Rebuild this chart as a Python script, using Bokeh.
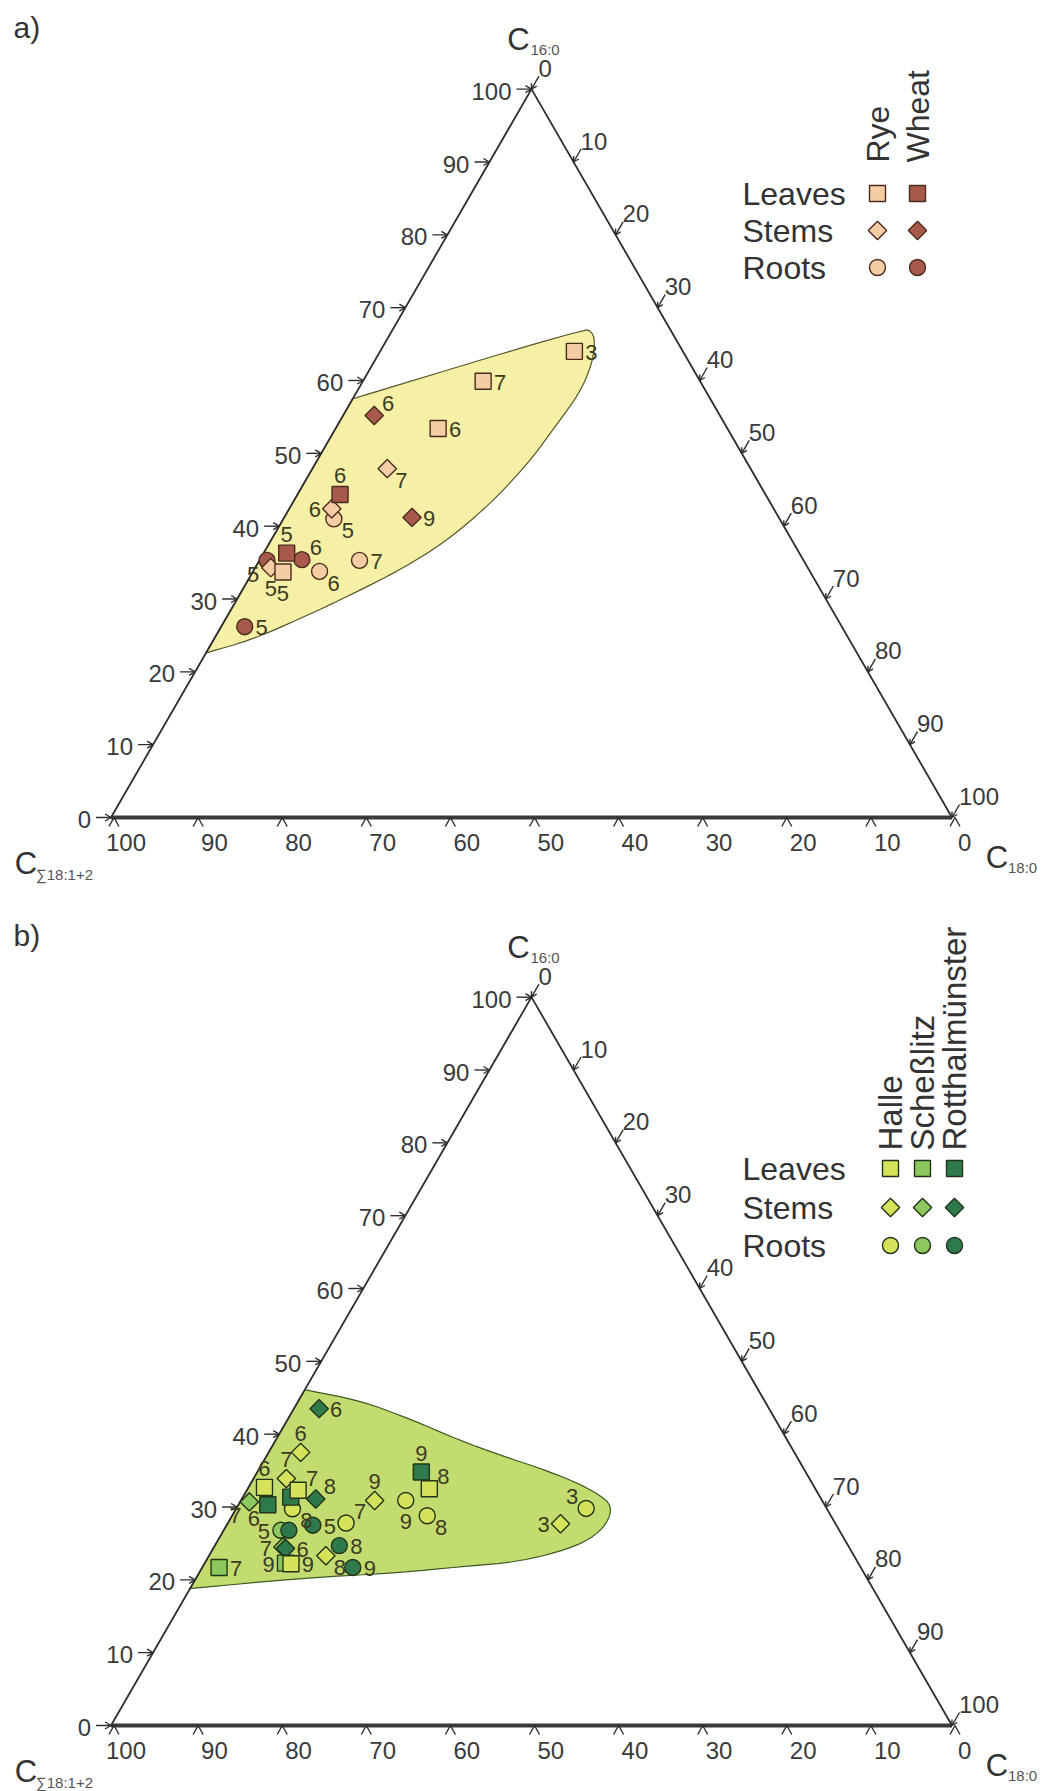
import math
from bokeh.plotting import figure
from bokeh.models import Range1d
from bokeh.core.properties import value
from bokeh.embed import file_html
from bokeh.resources import INLINE

# ---------------- data (percent: C16:0, C18:0; C18:1+2 is the remainder) -------------
ticks = [0, 10, 20, 30, 40, 50, 60, 70, 80, 90, 100]
tick_labels = [str(t) for t in ticks]

# Panel a) Rye / Wheat
rye_leaves_c16 = [64.0, 59.9, 53.4, 33.7]
rye_leaves_c18 = [23.1, 14.3, 12.2, 3.6]
rye_leaves_lbl = ["3", "7", "6", "5"]
rye_leaves_pos = ["r", "r", "r", "d"]

rye_stems_c16 = [47.9, 42.4, 34.3]
rye_stems_c18 = [8.9, 5.05, 1.85]
rye_stems_lbl = ["7", "6", "5"]
rye_stems_pos = ["dr", "l", "d"]

rye_roots_c16 = [41.0, 33.8, 35.3]
rye_roots_c18 = [6.0, 7.9, 11.9]
rye_roots_lbl = ["5", "6", "7"]
rye_roots_pos = ["dr", "dr", "r"]

wheat_leaves_c16 = [44.35, 36.3]
wheat_leaves_c18 = [5.06, 2.74]
wheat_leaves_lbl = ["6", "5"]
wheat_leaves_pos = ["u", "u"]

wheat_stems_c16 = [55.2, 41.2]
wheat_stems_c18 = [3.7, 15.2]
wheat_stems_lbl = ["6", "9"]
wheat_stems_pos = ["ur", "r"]

wheat_roots_c16 = [35.4, 35.3, 26.2]
wheat_roots_c18 = [5.0, 0.9, 2.8]
wheat_roots_lbl = ["6", "5", "5"]
wheat_roots_pos = ["ur", "dl", "r"]

hull_a_c16 = [57.5, 67.1, 66.7, 65.5, 62.5, 58.4, 53.8, 49.3, 44.9, 41.3, 37.7, 34.2, 30.7, 27.4, 24.4, 22.6]
hull_a_c18 = [0.0, 22.7, 23.8, 24.8, 26.0, 26.6, 26.0, 25.4, 24.2, 22.7, 20.7, 17.6, 13.4, 9.0, 4.5, 0.0]

# Panel b) Halle / Schesslitz / Rotthalmuenster
halle_leaves_c16 = [32.7, 32.3, 32.5, 22.2]
halle_leaves_c18 = [1.9, 6.1, 21.6, 10.3]
halle_leaves_lbl = ["6", "7", "8", "9"]
halle_leaves_pos = ["u", "ur", "ur", "r"]

halle_stems_c16 = [37.5, 33.9, 30.9, 23.3, 27.7]
halle_stems_c18 = [3.8, 3.9, 15.9, 13.9, 39.6]
halle_stems_lbl = ["6", "7", "9", "8", "3"]
halle_stems_pos = ["u", "u", "u", "dr", "l"]

halle_roots_c16 = [29.75, 27.8, 30.9, 28.8, 29.8]
halle_roots_c18 = [6.7, 14.05, 19.6, 23.2, 41.6]
halle_roots_lbl = ["8", "7", "9", "8", "3"]
halle_roots_pos = ["dr", "ur", "d", "dr", "ul"]

sch_leaves_c16 = [21.7, 22.3]
sch_leaves_c18 = [2.0, 9.6]
sch_leaves_lbl = ["7", "9"]
sch_leaves_pos = ["r", "l"]

sch_stems_c16 = [30.7, 24.5]
sch_stems_c18 = [1.1, 8.2]
sch_stems_lbl = ["7", "7"]
sch_stems_pos = ["dl", "l"]

sch_roots_c16 = [26.8]
sch_roots_c18 = [6.8]
sch_roots_lbl = ["5"]
sch_roots_pos = ["l"]

rott_leaves_c16 = [34.8, 31.35, 30.3]
rott_leaves_c18 = [19.5, 5.7, 3.5]
rott_leaves_lbl = ["9", "", "6"]
rott_leaves_pos = ["u", "u", "dl"]

rott_stems_c16 = [43.5, 31.1, 24.3]
rott_stems_c18 = [3.0, 8.8, 8.6]
rott_stems_lbl = ["6", "8", "6"]
rott_stems_pos = ["r", "ur", "r"]

rott_roots_c16 = [27.5, 26.8, 24.7, 21.7]
rott_roots_c18 = [10.25, 7.75, 14.8, 17.9]
rott_roots_lbl = ["5", "", "8", "9"]
rott_roots_pos = ["r", "r", "r", "r"]

hull_b_c16 = [46.1, 44.6, 41.9, 39.1, 37.1, 35.3, 33.4, 31.6, 30.2, 28.2, 26.1, 24.3, 22.5, 21.8, 21.0, 20.2, 18.8]
hull_b_c18 = [0.0, 7.4, 15.0, 22.0, 27.8, 33.4, 38.6, 42.4, 44.4, 45.1, 44.6, 42.5, 37.4, 30.7, 23.9, 12.4, 0.0]

# ---------------- layout / style ----------------
S = 8.41            # pixels per percent
H = math.sqrt(3) / 2
OX, OY = 110.5, 817.0   # pixel position of panel a's lower-left vertex
PANEL_B_SHIFT = 908.0   # pixels between the two panels
W, HGT = 1050, 1791

FONT = value("Liberation Sans")
INK = "#2e2e2e"
LBL_INK = "#3d3b22"
SQ, CI, DI = 16, 16, 13

def px(xp, yp):
    return (xp - OX) / S, (OY - yp) / S

p = figure(width=W, height=HGT, output_backend="svg", toolbar_location=None,
           x_range=Range1d((0 - OX) / S, (W - OX) / S),
           y_range=Range1d((OY - HGT) / S, OY / S),
           x_axis_location=None, y_axis_location=None, min_border=0)
p.grid.visible = False
p.outline_line_color = None
p.background_fill_color = "white"
p.border_fill_color = "white"

def tern(c16, c18, yoff):
    xs = [b + a / 2 for a, b in zip(c16, c18)]
    ys = [a * H + yoff for a in c16]
    return xs, ys

OFFS = {"r": (17, 1), "l": (-17, 1), "u": (0, -19), "d": (0, 21),
        "ur": (14, -12), "dr": (14, 12), "ul": (-14, -12), "dl": (-14, 14)}

def chaikin(xs, ys, n=2):
    pts = list(zip(xs, ys))
    for _ in range(n):
        new = [pts[0]]
        for (x0, y0), (x1, y1) in zip(pts[:-1], pts[1:]):
            new.append((0.75 * x0 + 0.25 * x1, 0.75 * y0 + 0.25 * y1))
            new.append((0.25 * x0 + 0.75 * x1, 0.25 * y0 + 0.75 * y1))
        new.append(pts[-1])
        pts = new
    return [q[0] for q in pts], [q[1] for q in pts]

def marker(xs, ys, kind, fill, edge):
    if kind == "square":
        p.scatter(xs, ys, marker="square", size=SQ, fill_color=fill, line_color=edge, line_width=1.4)
    elif kind == "diamond":
        p.scatter(xs, ys, marker="square", angle=math.pi / 4, size=DI, fill_color=fill, line_color=edge, line_width=1.4)
    else:
        p.scatter(xs, ys, marker="circle", size=CI, fill_color=fill, line_color=edge, line_width=1.4)

def draw_frame(yoff, hull_c16, hull_c18, hull_fill, hull_line):
    hx, hy = tern(hull_c16, hull_c18, yoff)
    hx, hy = chaikin(hx, hy, 2)
    p.patch(hx, hy, fill_color=hull_fill, line_color=hull_line, line_width=1.2)

    p.line([0, 50, 100], [yoff, 100 * H + yoff, yoff], line_color=INK, line_width=1.8)
    p.line([0, 100], [yoff, yoff], line_color="#3a3a3a", line_width=4)

    xs, ys = [], []
    for t in ticks:   # left axis (C16:0)
        X, Y = t / 2, t * H + yoff
        xs.append([X - 15 / S, X]); ys.append([Y, Y])
        xs.append([X - 6 / S, X, X - 6 / S]); ys.append([Y + 3.5 / S, Y, Y - 3.5 / S])
    d = (-0.5, -H)
    for t in ticks:   # right axis (C18:0)
        X, Y = t + (100 - t) / 2, (100 - t) * H + yoff
        xs.append([X - 15 / S * d[0], X]); ys.append([Y - 15 / S * d[1], Y])
        hx_, hy_ = [], []
        for ang in (math.radians(30), -math.radians(30)):
            bx, by = -d[0], -d[1]
            rx = bx * math.cos(ang) - by * math.sin(ang)
            ry = bx * math.sin(ang) + by * math.cos(ang)
            hx_.append(X + 6 / S * rx); hy_.append(Y + 6 / S * ry)
        xs.append([hx_[0], X, hx_[1]]); ys.append([hy_[0], Y, hy_[1]])
    for t in ticks:   # bottom axis (C18:1+2)
        X = 100 - t
        xs.append([X + 3 / S - 5 / S, X + 3 / S, X + 3 / S + 5 / S]); ys.append([yoff - 9 / S, yoff, yoff - 9 / S])
    p.multi_line(xs, ys, line_color=INK, line_width=1.4)

    lx = [t / 2 for t in ticks]; ly = [t * H + yoff for t in ticks]
    p.text(lx, ly, text=tick_labels, x_offset=-20, y_offset=2, text_align="right", text_baseline="middle",
           text_font=FONT, text_font_size="24px", text_color="#3a3a3a")
    rx = [t + (100 - t) / 2 for t in ticks]; ry = [(100 - t) * H + yoff for t in ticks]
    p.text(rx, ry, text=tick_labels, x_offset=7, y_offset=-21, text_align="left", text_baseline="middle",
           text_font=FONT, text_font_size="24px", text_color="#3a3a3a")
    bx = [100 - t for t in ticks]; by = [yoff] * len(ticks)
    bxo = [-5 if t == 100 else 6 for t in ticks]
    p.text(bx, by, text=tick_labels, x_offset=bxo, y_offset=25, text_align="left", text_baseline="middle",
           text_font=FONT, text_font_size="24px", text_color="#3a3a3a")

    def title(X, Y, dx, dy, sub, sdx, sdy):
        p.text([X], [Y], text=["C"], x_offset=dx, y_offset=dy, text_align="center", text_baseline="middle",
               text_font=FONT, text_font_size="31px", text_color="#333333")
        p.text([X], [Y], text=[sub], x_offset=sdx, y_offset=sdy, text_align="left", text_baseline="middle",
               text_font=FONT, text_font_size="15px", text_color="#555555")
    title(50, 100 * H + yoff, -13, -50, "16:0", -1, -40)
    title(0, yoff, -85, 46, "\u221118:1+2", -75, 57)
    title(100, yoff, 45, 40, "18:0", 56, 50)

def draw_series(c16, c18, lbl, pos, yoff, kind, fill, edge):
    xs, ys = tern(c16, c18, yoff)
    marker(xs, ys, kind, fill, edge)
    p.text(xs, ys, text=lbl, x_offset=[OFFS[k][0] for k in pos], y_offset=[OFFS[k][1] for k in pos],
           text_align="center", text_baseline="middle", text_font=FONT, text_font_size="22px", text_color=LBL_INK)

def legend(rows_y, text_x, col_x, col_names, fills, edge, name_bottom, name_size):
    for yy, name in zip(rows_y, ["Leaves", "Stems", "Roots"]):
        X, Y = px(text_x, yy)
        p.text([X], [Y], text=[name], text_align="left", text_baseline="middle",
               text_font=FONT, text_font_size="32px", text_color="#333333")
    kinds = ["square", "diamond", "circle"]
    for cx, nm, f in zip(col_x, col_names, fills):
        X, Y = px(cx, name_bottom)
        p.text([X], [Y], text=[nm], angle=math.pi / 2, text_align="left", text_baseline="middle",
               text_font=FONT, text_font_size=name_size, text_color="#333333")
        for yy, k in zip(rows_y, kinds):
            X, Y = px(cx, yy)
            marker([X], [Y], k, f, edge)

# ---------------- panel a ----------------
RYE, WHEAT, EDGE_A = "#f4cda2", "#a75a4b", "#4a2c1e"
draw_frame(0.0, hull_a_c16, hull_a_c18, "#f6f0a6", "#55552a")
draw_series(wheat_roots_c16, wheat_roots_c18, wheat_roots_lbl, wheat_roots_pos, 0.0, "circle", WHEAT, EDGE_A)
draw_series(rye_roots_c16, rye_roots_c18, rye_roots_lbl, rye_roots_pos, 0.0, "circle", RYE, EDGE_A)
draw_series(rye_stems_c16, rye_stems_c18, rye_stems_lbl, rye_stems_pos, 0.0, "diamond", RYE, EDGE_A)
draw_series(wheat_stems_c16, wheat_stems_c18, wheat_stems_lbl, wheat_stems_pos, 0.0, "diamond", WHEAT, EDGE_A)
draw_series(rye_leaves_c16, rye_leaves_c18, rye_leaves_lbl, rye_leaves_pos, 0.0, "square", RYE, EDGE_A)
draw_series(wheat_leaves_c16, wheat_leaves_c18, wheat_leaves_lbl, wheat_leaves_pos, 0.0, "square", WHEAT, EDGE_A)
legend([193, 230, 267], 742, [877, 917], ["Rye", "Wheat"], [RYE, WHEAT], EDGE_A, 162, "32px")
X, Y = px(13, 27)
p.text([X], [Y], text=["a)"], text_align="left", text_baseline="middle", text_font=FONT,
       text_font_size="30px", text_color="#333333")

# ---------------- panel b ----------------
YB = -PANEL_B_SHIFT / S
HALLE, SCH, ROTT, EDGE_B = "#d6e35a", "#8dc85e", "#2f7a4a", "#22331a"
draw_frame(YB, hull_b_c16, hull_b_c18, "#c3dc70", "#3d5a22")
draw_series(sch_roots_c16, sch_roots_c18, sch_roots_lbl, sch_roots_pos, YB, "circle", SCH, EDGE_B)
draw_series(rott_roots_c16, rott_roots_c18, rott_roots_lbl, rott_roots_pos, YB, "circle", ROTT, EDGE_B)
draw_series(halle_roots_c16, halle_roots_c18, halle_roots_lbl, halle_roots_pos, YB, "circle", HALLE, EDGE_B)
draw_series(sch_stems_c16, sch_stems_c18, sch_stems_lbl, sch_stems_pos, YB, "diamond", SCH, EDGE_B)
draw_series(halle_stems_c16, halle_stems_c18, halle_stems_lbl, halle_stems_pos, YB, "diamond", HALLE, EDGE_B)
draw_series(rott_stems_c16, rott_stems_c18, rott_stems_lbl, rott_stems_pos, YB, "diamond", ROTT, EDGE_B)
draw_series(rott_leaves_c16, rott_leaves_c18, rott_leaves_lbl, rott_leaves_pos, YB, "square", ROTT, EDGE_B)
draw_series(sch_leaves_c16, sch_leaves_c18, sch_leaves_lbl, sch_leaves_pos, YB, "square", SCH, EDGE_B)
draw_series(halle_leaves_c16, halle_leaves_c18, halle_leaves_lbl, halle_leaves_pos, YB, "square", HALLE, EDGE_B)
legend([1168, 1207, 1245], 742, [890, 922, 954], ["Halle", "Scheßlitz", "Rotthalmünster"],
       [HALLE, SCH, ROTT], EDGE_B, 1150, "33px")
X, Y = px(13, 935)
p.text([X], [Y], text=["b)"], text_align="left", text_baseline="middle", text_font=FONT,
       text_font_size="30px", text_color="#333333")

open("out.html", "w").write(file_html(p, INLINE))
